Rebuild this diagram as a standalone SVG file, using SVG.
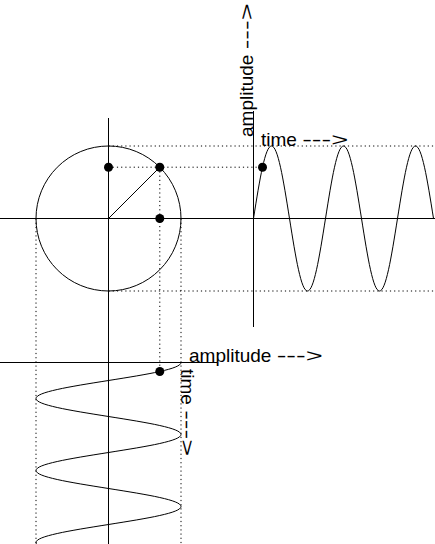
<svg xmlns="http://www.w3.org/2000/svg" width="435" height="544" viewBox="0 0 435 544">
<style>
.ax{stroke:#000;stroke-width:1;fill:none}
.dot{stroke:#000;stroke-width:1;stroke-dasharray:1.2 3;fill:none}
.crv{stroke:#000;stroke-width:1;fill:none}
.pt{fill:#000}
text{font-family:"Liberation Sans",Arial,sans-serif;font-size:19px;fill:#000}
</style>
<rect width="435" height="544" fill="#fff"/>
<g id="guides">
<line class="dot" x1="108.5" y1="146" x2="435" y2="146"/>
<line class="dot" x1="108.5" y1="167.2" x2="262.5" y2="167.2"/>
<line class="dot" x1="108.5" y1="291" x2="435" y2="291"/>
<line class="dot" x1="36" y1="218.5" x2="36" y2="544"/>
<line class="dot" x1="159.8" y1="167.2" x2="159.8" y2="371.5"/>
<line class="dot" x1="181" y1="218.5" x2="181" y2="544"/>
</g>
<g id="axes">
<line class="ax" x1="0" y1="218.5" x2="435" y2="218.5"/>
<line class="ax" x1="108.5" y1="118" x2="108.5" y2="544"/>
<line class="ax" x1="253.5" y1="111" x2="253.5" y2="327"/>
<line class="ax" x1="0" y1="362.5" x2="217" y2="362.5"/>
</g>
<g id="circle">
<circle class="crv" cx="108.5" cy="218.5" r="72.5"/>
<line class="crv" x1="108.5" y1="218.5" x2="159.8" y2="167.2"/>
</g>
<g id="wave-right">
<path class="crv" d="M253.5,218.5 c6.33,-40.04 11.67,-72.5 18,-72.5 s11.67,32.46 18,72.5 s11.67,72.5 18,72.5 s11.67,-32.46 18,-72.5 s11.67,-72.5 18,-72.5 s11.67,32.46 18,72.5 s11.67,72.5 18,72.5 s11.67,-32.46 18,-72.5 s11.67,-72.5 18,-72.5 s11.67,32.46 18,72.5"/>
</g>
<g id="wave-bottom">
<path class="crv" d="M181,362.5 c0,6.33 -32.46,11.67 -72.5,18 s-72.5,11.67 -72.5,18 s32.46,11.67 72.5,18 s72.5,11.67 72.5,18 s-32.46,11.67 -72.5,18 s-72.5,11.67 -72.5,18 s32.46,11.67 72.5,18 s72.5,11.67 72.5,18 s-32.46,11.67 -72.5,18 s-72.5,11.67 -72.5,18 s32.46,11.67 72.5,18"/>
</g>
<g id="points">
<circle class="pt" cx="108.5" cy="167.2" r="4.5"/>
<circle class="pt" cx="159.8" cy="167.2" r="4.5"/>
<circle class="pt" cx="159.8" cy="218.5" r="4.5"/>
<circle class="pt" cx="262.5" cy="167.2" r="4.5"/>
<circle class="pt" cx="159.8" cy="371.5" r="4.5"/>
</g>
<g id="labels">
<text x="261" y="146">time <tspan textLength="46" lengthAdjust="spacingAndGlyphs">---&gt;</tspan></text>
<text transform="translate(253,137) rotate(-90)">amplitude <tspan textLength="46" lengthAdjust="spacingAndGlyphs">---&gt;</tspan></text>
<text x="189" y="362">amplitude <tspan textLength="46" lengthAdjust="spacingAndGlyphs">---&gt;</tspan></text>
<text transform="translate(180.5,369) rotate(90)">time <tspan textLength="46" lengthAdjust="spacingAndGlyphs">---&gt;</tspan></text>
</g>
</svg>
